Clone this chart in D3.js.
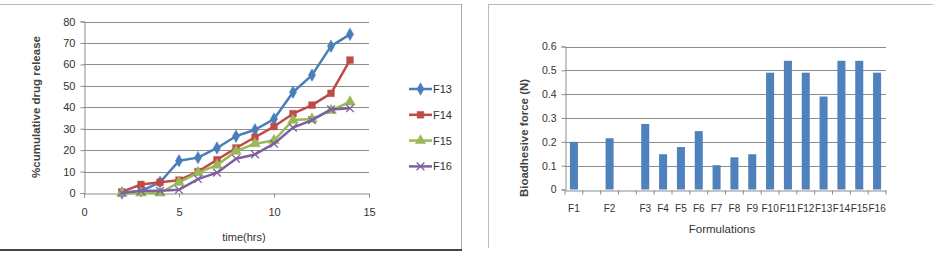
<!DOCTYPE html>
<html>
<head>
<meta charset="utf-8">
<script src="https://cdn.jsdelivr.net/npm/d3@7"></script>
<style>
  body { margin: 0; background: #fff; }
  svg text { font-family: "Liberation Sans Narrow", "Liberation Sans", sans-serif; fill: #333; }
</style>
</head>
<body>
<div id="dataid"></div>
<script>
// release profile data (time in hrs)
var times = [2, 3, 4, 5, 6, 7, 8, 9, 10, 11, 12, 13, 14];
var seriesNames = ["F13", "F14", "F15", "F16"];
var f13 = [0, 1, 5, 15, 16.5, 21, 26.5, 29.5, 34.5, 47, 55, 68.5, 74];
var f14 = [0.5, 4, 5, 6, 10, 15.5, 21, 26, 31, 37, 41, 46.5, 62];
var f15 = [0, 0, 0, 5, 9.5, 13, 19.5, 23, 24.5, 34, 34.5, 38.5, 42.5];
var f16 = [0, 1, 1, 1.5, 6.5, 9.5, 16, 18, 23, 30.5, 34, 39, 39.5];
var xTicks = [0, 5, 10, 15];
var yTicks = [0, 10, 20, 30, 40, 50, 60, 70, 80];

// bioadhesion data (two empty slots in the category axis)
var formulations = ["F1", "", "F2", " ", "F3", "F4", "F5", "F6", "F7", "F8", "F9", "F10", "F11", "F12", "F13", "F14", "F15", "F16"];
var force = [0.2, null, 0.215, null, 0.275, 0.148, 0.178, 0.245, 0.102, 0.135, 0.148, 0.49, 0.54, 0.49, 0.39, 0.54, 0.54, 0.49];
var forceTicks = [0, 0.1, 0.2, 0.3, 0.4, 0.5, 0.6];

var colors = ["#4a7ebb", "#be4b48", "#98b954", "#7d60a0"];
var symbols = [d3.symbolDiamond, d3.symbolSquare, d3.symbolTriangle, d3.symbolX];

var svg = d3.select("#dataid")
    .append("svg")
    .attr("width", 933)
    .attr("height", 254);

// panel borders
svg.append("line").attr("x1", 0).attr("x2", 462).attr("y1", 4.5).attr("y2", 4.5).attr("stroke", "#bbb");
svg.append("line").attr("x1", 461.5).attr("x2", 461.5).attr("y1", 4).attr("y2", 251).attr("stroke", "#aaa");
svg.append("line").attr("x1", 0).attr("x2", 462).attr("y1", 250).attr("y2", 250).attr("stroke", "#444").attr("stroke-width", 2);
svg.append("line").attr("x1", 488.5).attr("x2", 933).attr("y1", 4.5).attr("y2", 4.5).attr("stroke", "#bbb");
svg.append("line").attr("x1", 488.5).attr("x2", 488.5).attr("y1", 4).attr("y2", 248).attr("stroke", "#bbb");

// ---------- left chart ----------
var x = d3.scaleLinear().domain([0, 15]).range([84, 369]);
var y = d3.scaleLinear().domain([0, 80]).range([193, 21.5]);

var left = svg.append("g");

left.append("g")
    .selectAll("line")
    .data(yTicks.slice(1))
    .enter()
    .append("line")
    .attr("x1", x(0)).attr("x2", x(15))
    .attr("y1", function (d) { return Math.round(y(d)) + 0.5; })
    .attr("y2", function (d) { return Math.round(y(d)) + 0.5; })
    .attr("stroke", "#8c8c8c");

left.append("g")
    .attr("transform", "translate(0," + (Math.round(y(0)) + 0.5) + ")")
    .call(d3.axisBottom(x).tickValues(xTicks).tickSize(4).tickPadding(11))
    .call(function (g) {
        g.select(".domain").attr("stroke", "#8c8c8c");
        g.selectAll(".tick line").attr("stroke", "#8c8c8c");
        g.selectAll("text").attr("font-size", 11).attr("fill", "#333");
    });

left.append("g")
    .attr("transform", "translate(" + (x(0) + 0.5) + ",0)")
    .call(d3.axisLeft(y).tickValues(yTicks).tickSize(4).tickPadding(5))
    .call(function (g) {
        g.select(".domain").attr("stroke", "#8c8c8c");
        g.selectAll(".tick line").attr("stroke", "#8c8c8c");
        g.selectAll("text").attr("font-size", 11).attr("fill", "#333");
    });

left.append("text")
    .attr("x", 244).attr("y", 241)
    .attr("text-anchor", "middle")
    .attr("font-size", 11)
    .text("time(hrs)");

left.append("text")
    .attr("transform", "translate(40,107) rotate(-90)")
    .attr("text-anchor", "middle")
    .attr("font-size", 11.5)
    .attr("font-family", "Liberation Sans")
    .attr("font-weight", "bold")
    .style("fill", "#444")
    .text("%cumulative drug release");

var allSeries = [f13, f14, f15, f16];
var line = d3.line()
    .x(function (d, i) { return x(times[i]); })
    .y(function (d) { return y(d); });

allSeries.forEach(function (vals, k) {
    var g = left.append("g");
    g.append("path")
        .datum(vals)
        .attr("fill", "none")
        .attr("stroke", colors[k])
        .attr("stroke-width", 2.5)
        .attr("stroke-linejoin", "round")
        .attr("d", line);
    var sym = d3.symbol().type(symbols[k]).size(k == 3 ? 40 : (k == 2 ? 50 : 45));
    g.selectAll("path.m")
        .data(vals)
        .enter()
        .append("path")
        .attr("class", "m")
        .attr("transform", function (d, i) { return "translate(" + x(times[i]) + "," + y(d) + ")"; })
        .attr("d", sym)
        .attr("fill", k == 3 ? "none" : colors[k])
        .attr("stroke", colors[k])
        .attr("stroke-width", k == 3 ? 1.3 : 0.5);
});

// legend
var legend = left.append("g");
seriesNames.forEach(function (name, k) {
    var ly = 89 + k * 25.8;
    legend.append("line")
        .attr("x1", 409).attr("x2", 432)
        .attr("y1", ly).attr("y2", ly)
        .attr("stroke", colors[k]).attr("stroke-width", 2.5);
    legend.append("path")
        .attr("transform", "translate(420.5," + ly + ")")
        .attr("d", d3.symbol().type(symbols[k]).size(k == 3 ? 40 : 45))
        .attr("fill", k == 3 ? "none" : colors[k])
        .attr("stroke", colors[k])
        .attr("stroke-width", k == 3 ? 1.3 : 0.5);
    legend.append("text")
        .attr("x", 433).attr("y", ly + 4)
        .attr("font-size", 11)
        .text(name);
});

// ---------- right chart ----------
var xb = d3.scaleBand()
    .domain(formulations)
    .range([565, 886])
    .paddingInner(0.55)
    .paddingOuter(0.275);
var yb = d3.scaleLinear().domain([0, 0.6]).range([189.5, 46.5]);

var right = svg.append("g");

right.append("g")
    .selectAll("line")
    .data(forceTicks.slice(1))
    .enter()
    .append("line")
    .attr("x1", 565).attr("x2", 886)
    .attr("y1", function (d) { return Math.round(yb(d)) + 0.5; })
    .attr("y2", function (d) { return Math.round(yb(d)) + 0.5; })
    .attr("stroke", "#8c8c8c");

right.selectAll("rect")
    .data(force.map(function (v, i) { return { name: formulations[i], value: v }; })
        .filter(function (d) { return d.value != null; }))
    .enter()
    .append("rect")
    .attr("x", function (d) { return xb(d.name); })
    .attr("y", function (d) { return yb(d.value); })
    .attr("width", xb.bandwidth())
    .attr("height", function (d) { return yb(0) - yb(d.value); })
    .attr("fill", "#4f81bd");

// category axis: ticks sit between categories
var step = xb.step();
right.append("g")
    .attr("transform", "translate(0," + (Math.round(yb(0)) + 0.5) + ")")
    .call(d3.axisBottom(xb).tickSize(0).tickPadding(14))
    .call(function (g) {
        g.select(".domain").attr("stroke", "#8c8c8c");
        g.selectAll("text").attr("font-size", 10).attr("fill", "#333");
    })
    .call(function (g) {
        g.selectAll("line.sep")
            .data(d3.range(formulations.length + 1))
            .enter()
            .append("line")
            .attr("class", "sep")
            .attr("x1", function (i) { return 565 + i * step; })
            .attr("x2", function (i) { return 565 + i * step; })
            .attr("y1", 0).attr("y2", 4)
            .attr("stroke", "#8c8c8c");
    });

right.append("g")
    .attr("transform", "translate(565.5,0)")
    .call(d3.axisLeft(yb).tickValues(forceTicks).tickFormat(function (d) { return d === 0 ? "0" : d3.format(".1f")(d); }).tickSize(4).tickPadding(5))
    .call(function (g) {
        g.select(".domain").attr("stroke", "#8c8c8c");
        g.selectAll(".tick line").attr("stroke", "#8c8c8c");
        g.selectAll("text").attr("font-size", 10.5).attr("fill", "#333");
    });

right.append("text")
    .attr("x", 722).attr("y", 233)
    .attr("text-anchor", "middle")
    .attr("font-size", 11.5)
    .text("Formulations");

right.append("text")
    .attr("transform", "translate(528,138) rotate(-90)")
    .attr("text-anchor", "middle")
    .attr("font-size", 11.5)
    .attr("font-family", "Liberation Sans")
    .attr("font-weight", "bold")
    .style("fill", "#444")
    .text("Bioadhesive force (N)");
</script>
</body>
</html>
